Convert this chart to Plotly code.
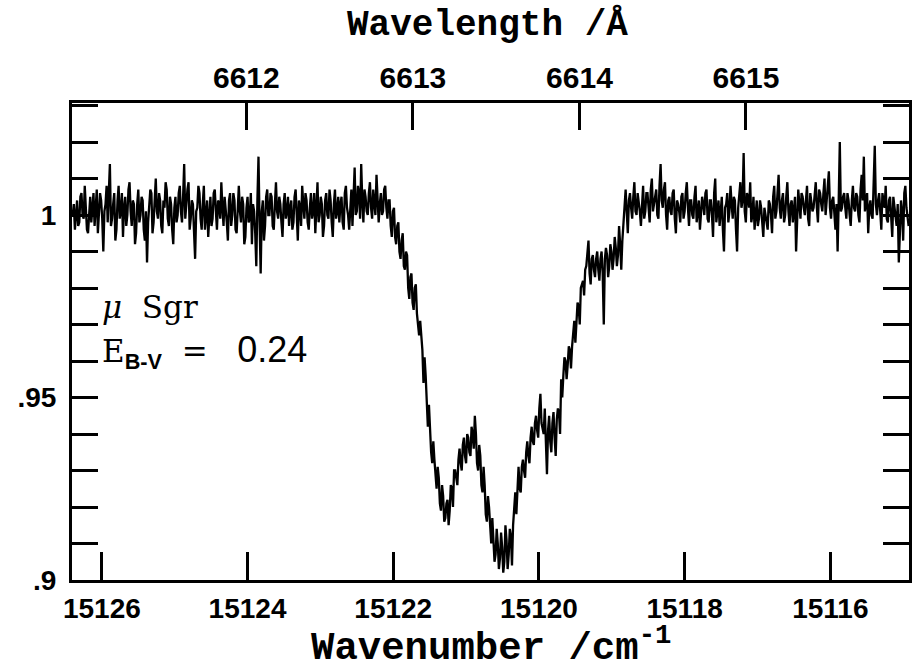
import numpy as np
import plotly.graph_objects as go

# Normalised flux of mu Sgr across the 6613 A diffuse interstellar band.
# Samples lie on a uniform wavenumber grid (cm^-1), high to low wavenumber;
# each region is given as two interleaved readings (even / odd samples).
nu_start = 15126.40
nu_step = 0.015

# continuum on the high-wavenumber (blue) side of the band
flux_blue_even = [
    1.000, 0.996, 1.004, 0.998, 1.006, 0.999, 1.003, 0.995, 1.005, 1.001,
    0.997, 1.007, 1.000, 1.004, 0.990, 1.003, 0.998, 1.014, 0.999, 1.006,
    0.996, 1.008, 1.001, 0.994, 1.005, 1.000, 1.009, 0.997, 1.003, 0.995,
    1.007, 1.000, 1.004, 0.993, 0.987, 1.002, 1.006, 0.998, 1.010, 0.999,
    1.004, 0.995, 1.002, 1.007, 0.997, 1.003, 0.992, 1.005, 1.000, 1.008,
    0.998, 1.014, 1.004, 1.009, 0.999, 1.003, 0.988, 1.002, 1.006, 0.996,
    1.008, 1.001, 0.994, 1.005, 0.999, 1.007, 0.996, 1.003, 1.009, 0.997,
    1.002, 0.993, 1.006, 1.000, 1.004, 0.995, 1.008, 0.998, 1.003, 0.994,
    1.005, 0.999, 0.992, 1.001, 0.986, 1.016, 0.984, 1.004, 0.997, 1.007,
    1.000, 1.005, 0.996, 1.009, 0.999, 1.003, 0.994, 1.006, 1.001, 0.997,
    1.004, 0.998, 1.007, 0.993, 1.002, 1.008, 0.999, 1.004, 0.996, 1.006,
    1.001, 0.995, 1.009, 1.000, 1.003, 0.997, 1.006, 0.999, 1.004, 0.994,
    1.007, 1.001, 0.998, 1.005, 0.996, 1.008, 1.000, 1.003, 0.997, 1.013,
    1.001, 1.006, 1.014, 0.998, 1.005, 1.000, 1.009, 0.999, 1.004, 1.011,
    0.998, 1.006, 1.001, 1.008, 0.999,
]
flux_blue_odd = [
    1.003, 1.001, 0.997, 1.005, 1.000, 1.008, 0.996, 1.002, 0.998, 1.006,
    1.002, 0.995, 1.006, 0.999, 1.001, 1.008, 1.004, 0.997, 1.003, 0.993,
    1.004, 0.999, 1.006, 1.002, 0.997, 1.007, 1.001, 1.004, 0.992, 1.003,
    0.998, 1.005, 0.996, 1.001, 0.998, 1.007, 0.995, 1.003, 1.001, 1.006,
    0.997, 1.004, 1.009, 0.999, 1.005, 0.996, 1.002, 0.998, 1.006, 1.001,
    1.005, 0.999, 1.007, 0.996, 1.004, 0.994, 1.001, 1.008, 0.999, 1.003,
    0.996, 1.004, 1.002, 0.997, 1.006, 1.001, 1.004, 0.999, 1.002, 1.005,
    0.998, 1.004, 0.997, 1.006, 0.996, 1.003, 1.001, 1.005, 0.992, 1.002,
    0.998, 1.006, 1.003, 0.995, 1.004, 0.998, 1.001, 0.993, 1.005, 1.000,
    1.006, 0.997, 1.003, 1.001, 1.005, 0.998, 1.003, 0.999, 1.005, 1.002,
    0.996, 1.005, 1.000, 1.004, 0.997, 1.003, 1.006, 0.998, 1.002, 0.999,
    1.006, 1.002, 0.998, 1.005, 0.994, 1.004, 1.000, 1.007, 0.998, 1.003,
    0.999, 1.005, 1.003, 0.998, 1.006, 1.002, 0.996, 1.007, 1.003, 1.000,
    1.008, 0.999, 1.004, 1.007, 1.001, 1.006, 1.002, 1.007, 1.000, 1.005,
    1.003, 1.000, 1.007, 1.002, 1.004,
]

# the absorption band itself (double-troughed profile)
flux_band_even = [
    1.004, 0.994, 1.002, 0.992, 0.998, 0.988, 0.995, 0.985, 0.989, 0.977,
    0.984, 0.974, 0.981, 0.969, 0.971, 0.963, 0.961, 0.946, 0.948, 0.935,
    0.938, 0.927, 0.931, 0.921, 0.926, 0.916, 0.921, 0.915, 0.926, 0.920,
    0.930, 0.926, 0.936, 0.930, 0.939, 0.932, 0.939, 0.934, 0.940, 0.945,
    0.932, 0.937, 0.926, 0.931, 0.918, 0.923, 0.913, 0.917, 0.905, 0.914,
    0.903, 0.913, 0.902, 0.915, 0.903, 0.914, 0.904, 0.920, 0.918, 0.931,
    0.924, 0.933, 0.928, 0.938, 0.932, 0.942, 0.937, 0.945, 0.939, 0.951,
    0.941, 0.947, 0.929, 0.945, 0.935, 0.946, 0.934, 0.947, 0.940, 0.950,
    0.961, 0.955, 0.964, 0.958, 0.968, 0.965, 0.976, 0.970, 0.981, 0.978,
    0.986, 0.993, 0.981, 0.989, 0.983, 0.990, 0.982, 0.990, 0.970, 0.991,
    0.983, 0.992, 0.985, 0.994, 0.986, 0.997, 0.985, 0.999, 1.007, 0.995,
    1.006, 0.999, 1.009, 1.000,
]
flux_band_odd = [
    0.997, 1.001, 0.994, 0.997, 0.990, 0.993, 0.986, 0.990, 0.980, 0.983,
    0.976, 0.980, 0.973, 0.967, 0.966, 0.954, 0.956, 0.942, 0.941, 0.932,
    0.933, 0.925, 0.928, 0.919, 0.923, 0.917, 0.922, 0.919, 0.925, 0.930,
    0.928, 0.933, 0.932, 0.937, 0.934, 0.940, 0.935, 0.942, 0.936, 0.940,
    0.930, 0.934, 0.924, 0.926, 0.916, 0.920, 0.910, 0.912, 0.907, 0.910,
    0.906, 0.909, 0.905, 0.911, 0.907, 0.912, 0.915, 0.924, 0.927, 0.925,
    0.931, 0.930, 0.935, 0.934, 0.939, 0.938, 0.943, 0.941, 0.947, 0.943,
    0.940, 0.937, 0.941, 0.938, 0.943, 0.939, 0.944, 0.946, 0.955, 0.956,
    0.960, 0.959, 0.963, 0.964, 0.971, 0.973, 0.975, 0.980, 0.982, 0.985,
    0.989, 0.984, 0.988, 0.985, 0.988, 0.985, 0.988, 0.984, 0.988, 0.989,
    0.986, 0.990, 0.988, 0.991, 0.989, 0.992, 0.993, 1.002, 1.001, 1.004,
    1.002, 1.005, 1.001, 1.006,
]

# continuum on the low-wavenumber (red) side of the band
flux_red_even = [
    1.004, 0.997, 1.008, 1.001, 1.006, 0.998, 1.010, 1.003, 1.007, 0.999,
    1.014, 1.002, 1.009, 0.996, 1.005, 1.000, 1.007, 0.995, 1.003, 0.998,
    1.006, 1.001, 1.009, 0.997, 1.004, 0.999, 1.008, 1.002, 0.996, 1.005,
    1.000, 1.007, 0.998, 1.004, 0.994, 1.010, 1.001, 0.997, 1.005, 0.990,
    1.003, 0.998, 1.008, 0.999, 1.004, 0.990, 1.006, 1.002, 1.017, 0.998,
    1.005, 1.009, 1.000, 0.996, 1.004, 0.999, 1.002, 0.994, 1.000, 0.996,
    1.003, 0.995, 1.008, 1.001, 1.011, 0.999, 1.006, 1.000, 1.009, 0.997,
    1.004, 1.001, 0.990, 1.007, 0.999, 1.005, 1.000, 1.008, 0.997, 1.004,
    1.002, 1.009, 0.998, 1.006, 1.001, 1.010, 1.003, 1.012, 0.999, 1.005,
    0.996, 0.990, 1.020, 1.002, 1.006, 0.999, 1.004, 0.997, 1.008, 1.001,
    1.005, 0.998, 1.011, 1.016, 1.003, 0.995, 1.004, 0.999, 1.019, 1.000,
    1.006, 0.996, 1.003, 1.008, 0.998, 1.005, 0.994, 1.002, 0.997, 0.987,
    1.004, 0.993, 1.008, 1.000,
]
flux_red_odd = [
    1.001, 1.005, 0.999, 1.006, 1.002, 1.007, 1.001, 1.005, 1.000, 1.008,
    1.004, 1.007, 1.000, 1.004, 1.001, 1.006, 0.999, 1.004, 1.001, 1.005,
    0.999, 1.006, 1.002, 1.004, 1.000, 1.005, 0.998, 1.004, 1.001, 1.003,
    1.006, 0.999, 1.004, 1.000, 1.006, 0.998, 1.004, 1.003, 0.996, 1.002,
    1.006, 1.001, 1.003, 1.005, 0.996, 1.002, 1.009, 1.004, 1.001, 1.006,
    1.002, 0.998, 1.005, 1.001, 0.997, 1.004, 0.998, 1.002, 0.999, 1.004,
    1.000, 1.005, 0.999, 1.006, 1.002, 1.004, 0.998, 1.005, 1.001, 1.003,
    0.998, 1.005, 1.000, 1.003, 1.006, 1.002, 1.004, 0.999, 1.006, 1.001,
    1.005, 1.002, 1.007, 1.003, 1.006, 1.000, 1.008, 1.002, 1.004, 0.999,
    1.003, 1.004, 1.001, 1.005, 1.002, 1.006, 1.000, 1.004, 1.002, 1.006,
    1.000, 1.007, 1.004, 1.001, 1.006, 1.002, 1.000, 1.008, 1.003, 1.004,
    1.001, 1.006, 1.002, 0.999, 1.004, 1.000, 1.005, 0.998, 1.003, 0.995,
    1.001, 1.006, 1.002, 0.997,
]

# axis settings
x_range = [15126.41, 15114.92]
y_range = [0.9, 1.0307]
x_ticks = [15126, 15124, 15122, 15120, 15118, 15116]
y_ticks = [0.90, 0.95, 1.00]
y_tick_text = [".9", ".95", "1"]
wavelength_ticks = [6612, 6613, 6614, 6615]

even = np.array(flux_blue_even + flux_band_even + flux_red_even)
odd = np.array(flux_blue_odd + flux_band_odd + flux_red_odd)
flux = np.empty(even.size + odd.size)
flux[0::2] = even
flux[1::2] = odd
wavenumber = nu_start - nu_step * np.arange(flux.size)

tick_font = dict(family="Liberation Sans", size=28, color="black", weight="bold")

fig = go.Figure()
fig.add_trace(go.Scatter(
    x=wavenumber, y=flux, mode="lines",
    line=dict(color="black", width=2.3),
    showlegend=False, hoverinfo="skip",
))
# invisible trace that carries the top (wavelength) axis
fig.add_trace(go.Scatter(
    x=[wavenumber[0]], y=[flux[0]], xaxis="x2", mode="markers",
    marker=dict(opacity=0), showlegend=False, hoverinfo="skip",
))

fig.update_layout(
    width=917, height=665,
    margin=dict(l=72, r=5, t=103, b=85),
    paper_bgcolor="white", plot_bgcolor="white",
    xaxis=dict(
        range=x_range, tickvals=x_ticks,
        ticktext=[str(v) for v in x_ticks],
        ticks="inside", ticklen=28, tickwidth=2.5, tickcolor="black",
        showline=True, linewidth=3, linecolor="black", mirror=False,
        showgrid=False, zeroline=False,
        tickfont=tick_font, ticklabelstandoff=1,
    ),
    xaxis2=dict(
        range=x_range, overlaying="x", side="top", anchor="y",
        tickvals=[1e8 / w for w in wavelength_ticks],
        ticktext=[str(w) for w in wavelength_ticks],
        ticks="inside", ticklen=27, tickwidth=2.5, tickcolor="black",
        showline=True, linewidth=3, linecolor="black",
        showgrid=False, zeroline=False,
        tickfont=dict(family="Liberation Sans", size=30, color="black", weight="bold"),
        ticklabelstandoff=0,
    ),
    yaxis=dict(
        range=y_range, tickvals=y_ticks, ticktext=y_tick_text,
        ticks="inside", ticklen=26, tickwidth=2.5, tickcolor="black",
        minor=dict(dtick=0.01, tick0=0.9, ticks="inside", ticklen=14,
                   tickwidth=2.5, tickcolor="black"),
        showline=True, linewidth=3, linecolor="black", mirror="allticks",
        showgrid=False, zeroline=False,
        tickfont=tick_font, ticklabelstandoff=7,
    ),
)

fig.add_annotation(
    text="Wavenumber /cm<sup>-1</sup>", xref="paper", yref="paper",
    x=0.5, y=-0.138, xanchor="center", yanchor="middle", showarrow=False,
    font=dict(family="Liberation Mono", size=39, color="black", weight="bold"),
)
fig.add_annotation(
    text="Wavelength /Å", xref="paper", yref="paper",
    x=0.497, y=1.1633, xanchor="center", yanchor="middle", showarrow=False,
    font=dict(family="Liberation Mono", size=36, color="black", weight="bold"),
)
fig.add_annotation(
    text="<i>μ</i>&nbsp;&nbsp;Sgr", xref="paper", yref="paper",
    x=0.0333, y=0.5723, xanchor="left", yanchor="middle", showarrow=False,
    font=dict(family="DejaVu Serif", size=31, color="black"),
)
fig.add_annotation(
    text="E<sub><b><span style='font-family:Liberation Sans'>B-V</span></b></sub>"
         "&nbsp;&nbsp;=&nbsp;&nbsp;&nbsp;"
         "<span style='font-family:Liberation Sans;font-size:36px'>0.24</span>",
    xref="paper", yref="paper",
    x=0.0333, y=0.480, xanchor="left", yanchor="middle", showarrow=False,
    font=dict(family="DejaVu Serif", size=31, color="black"),
)

fig.write_html("out.html")
